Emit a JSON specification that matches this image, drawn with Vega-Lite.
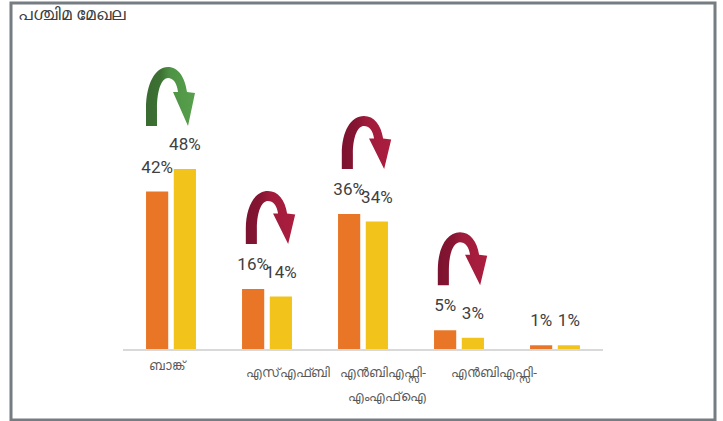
{
  "$schema": "https://vega.github.io/schema/vega-lite/v6.json",
  "width": 704,
  "height": 417,
  "autosize": {"type": "none"},
  "padding": {"left": 11, "top": 3, "right": 8, "bottom": 1},
  "background": "white",
  "title": {
    "text": "പശ്ചിമ മേഖല",
    "anchor": "start",
    "frame": "group",
    "orient": "top",
    "baseline": "top",
    "offset": -9,
    "dx": 7,
    "dy": 12,
    "fontSize": 17,
    "font": "Noto Sans",
    "fontWeight": "normal",
    "color": "#404040"
  },
  "config": {
    "view": {"stroke": "#757d82", "strokeWidth": 3, "fill": "white"}
  },
  "datasets": {
    "bars": [
      {"cat": "ബാങ്ക്", "period": "p1", "value": 0.42, "trend": "up"},
      {"cat": "ബാങ്ക്", "period": "p2", "value": 0.48, "trend": "up"},
      {"cat": "എസ്എഫ്ബി", "period": "p1", "value": 0.16, "trend": "down"},
      {"cat": "എസ്എഫ്ബി", "period": "p2", "value": 0.14, "trend": "down"},
      {"cat": "എൻബിഎഫ്സി-എംഎഫ്ഐ", "period": "p1", "value": 0.36, "trend": "down"},
      {"cat": "എൻബിഎഫ്സി-എംഎഫ്ഐ", "period": "p2", "value": 0.34, "trend": "down"},
      {"cat": "എൻബിഎഫ്സി-", "period": "p1", "value": 0.05, "trend": "down"},
      {"cat": "എൻബിഎഫ്സി-", "period": "p2", "value": 0.03, "trend": "down"},
      {"cat": "മറ്റുള്ളവ", "period": "p1", "value": 0.01, "trend": "flat"},
      {"cat": "മറ്റുള്ളവ", "period": "p2", "value": 0.01, "trend": "flat"}
    ],
    "labels": [
      {"cat": "ബാങ്ക്", "line1": "ബാങ്ക്", "line2": ""},
      {"cat": "എസ്എഫ്ബി", "line1": "എസ്എഫ്ബി", "line2": ""},
      {"cat": "എൻബിഎഫ്സി-എംഎഫ്ഐ", "line1": "എൻബിഎഫ്സി-", "line2": "എംഎഫ്ഐ"},
      {"cat": "എൻബിഎഫ്സി-", "line1": "എൻബിഎഫ്സി-", "line2": ""},
      {"cat": "മറ്റുള്ളവ", "line1": "", "line2": ""}
    ]
  },
  "layer": [
    {
      "data": {"name": "labels"},
      "mark": {"type": "tick", "color": "#d9d9d9", "thickness": 2, "size": 96, "yOffset": 1, "orient": "horizontal", "opacity": 1},
      "encoding": {
        "x": {"field": "cat", "type": "nominal", "axis": null,
              "scale": {"domain": ["ബാങ്ക്", "എസ്എഫ്ബി", "എൻബിഎഫ്സി-എംഎഫ്ഐ", "എൻബിഎഫ്സി-", "മറ്റുള്ളവ"], "range": [112, 592], "paddingInner": 0.48, "paddingOuter": 0.24}},
        "y": {"datum": 0, "type": "quantitative", "axis": null, "scale": {"domain": [-0.1893, 0.9227], "nice": false, "zero": false}}
      }
    },
    {
      "data": {"name": "bars"},
      "mark": {"type": "bar"},
      "encoding": {
        "x": {"field": "cat", "type": "nominal", "axis": null},
        "xOffset": {"field": "period", "type": "nominal", "scale": {"paddingInner": 0.2, "paddingOuter": 0}},
        "y": {"field": "value", "type": "quantitative", "axis": null},
        "y2": {"datum": 0},
        "color": {"field": "period", "type": "nominal", "legend": null,
                  "scale": {"domain": ["p1", "p2"], "range": ["#e97627", "#f2c31b"]}}
      }
    },
    {
      "data": {"name": "bars"},
      "mark": {"type": "text", "baseline": "alphabetic", "dy": -19, "font": "Roboto", "fontSize": 17, "color": "#404040"},
      "encoding": {
        "x": {"field": "cat", "type": "nominal", "axis": null},
        "xOffset": {"field": "period", "type": "nominal"},
        "y": {"field": "value", "type": "quantitative", "axis": null},
        "text": {"field": "value", "type": "quantitative", "format": ".0%"}
      }
    },
    {
      "data": {"name": "bars"},
      "transform": [
        {"filter": "datum.trend == 'up'"},
        {"aggregate": [{"op": "max", "field": "value", "as": "top"}], "groupby": ["cat"]}
      ],
      "mark": {
        "type": "point", "filled": true, "opacity": 1, "size": 3600, "yOffset": -72, "strokeWidth": 0,
        "shape": "M-0.833,0.967L-0.833,0.4C-0.833,-0.433,-0.533,-1,-0.1,-1C0.233,-1,0.467,-0.667,0.533,-0.167L0.8,-0.133L0.567,0.967L0.067,-0.167L0.233,-0.167C0.2,-0.467,0.067,-0.633,-0.1,-0.633C-0.3,-0.633,-0.467,-0.267,-0.467,0.4L-0.467,0.967Z",
        "fill": {"gradient": "linear", "x1": 0, "y1": 0, "x2": 1, "y2": 0,
                 "stops": [{"offset": 0, "color": "#3a6a30"}, {"offset": 0.3, "color": "#3d7233"}, {"offset": 0.5, "color": "#4e9345"}, {"offset": 1, "color": "#57a04c"}]}
      },
      "encoding": {
        "x": {"field": "cat", "type": "nominal", "axis": null},
        "y": {"field": "top", "type": "quantitative", "axis": null}
      }
    },
    {
      "data": {"name": "bars"},
      "transform": [
        {"filter": "datum.trend == 'down'"},
        {"aggregate": [{"op": "max", "field": "value", "as": "top"}], "groupby": ["cat"]}
      ],
      "mark": {
        "type": "point", "filled": true, "opacity": 1, "size": 2916, "yOffset": -71, "xOffset": 4, "strokeWidth": 0,
        "shape": "M-0.933,0.967L-0.933,0.4C-0.933,-0.433,-0.597,-1,-0.112,-1C0.261,-1,0.523,-0.667,0.597,-0.167L0.896,-0.133L0.635,0.967L0.075,-0.167L0.261,-0.167C0.224,-0.467,0.075,-0.633,-0.112,-0.633C-0.336,-0.633,-0.523,-0.267,-0.523,0.4L-0.523,0.967Z",
        "fill": {"gradient": "linear", "x1": 0, "y1": 0, "x2": 1, "y2": 0,
                 "stops": [{"offset": 0, "color": "#7c1330"}, {"offset": 0.3, "color": "#861532"}, {"offset": 0.5, "color": "#a01b3b"}, {"offset": 1, "color": "#ab1e3e"}]}
      },
      "encoding": {
        "x": {"field": "cat", "type": "nominal", "axis": null},
        "y": {"field": "top", "type": "quantitative", "axis": null}
      }
    },
    {
      "data": {"name": "labels"},
      "transform": [{"filter": "datum.cat == 'ബാങ്ക്'"}],
      "mark": {"type": "text", "baseline": "middle", "dx": -4, "font": "Noto Sans", "fontSize": 13, "color": "#595959"},
      "encoding": {"x": {"field": "cat", "type": "nominal", "axis": null}, "y": {"datum": -0.044}, "text": {"field": "line1"}}
    },
    {
      "data": {"name": "labels"},
      "transform": [{"filter": "datum.cat == 'എസ്എഫ്ബി'"}],
      "mark": {"type": "text", "baseline": "middle", "dx": 21, "font": "Noto Sans", "fontSize": 13, "color": "#595959"},
      "encoding": {"x": {"field": "cat", "type": "nominal", "axis": null}, "y": {"datum": -0.063}, "text": {"field": "line1"}}
    },
    {
      "data": {"name": "labels"},
      "transform": [{"filter": "datum.cat == 'എൻബിഎഫ്സി-എംഎഫ്ഐ'"}],
      "mark": {"type": "text", "baseline": "middle", "dx": 20, "font": "Noto Sans", "fontSize": 13, "color": "#595959"},
      "encoding": {"x": {"field": "cat", "type": "nominal", "axis": null}, "y": {"datum": -0.063}, "text": {"field": "line1"}}
    },
    {
      "data": {"name": "labels"},
      "transform": [{"filter": "datum.cat == 'എൻബിഎഫ്സി-എംഎഫ്ഐ'"}],
      "mark": {"type": "text", "baseline": "middle", "dx": 24, "font": "Noto Sans", "fontSize": 13, "color": "#595959"},
      "encoding": {"x": {"field": "cat", "type": "nominal", "axis": null}, "y": {"datum": -0.127}, "text": {"field": "line2"}}
    },
    {
      "data": {"name": "labels"},
      "transform": [{"filter": "datum.cat == 'എൻബിഎഫ്സി-'"}],
      "mark": {"type": "text", "baseline": "middle", "dx": 35, "font": "Noto Sans", "fontSize": 13, "color": "#595959"},
      "encoding": {"x": {"field": "cat", "type": "nominal", "axis": null}, "y": {"datum": -0.063}, "text": {"field": "line1"}}
    }
  ]
}
